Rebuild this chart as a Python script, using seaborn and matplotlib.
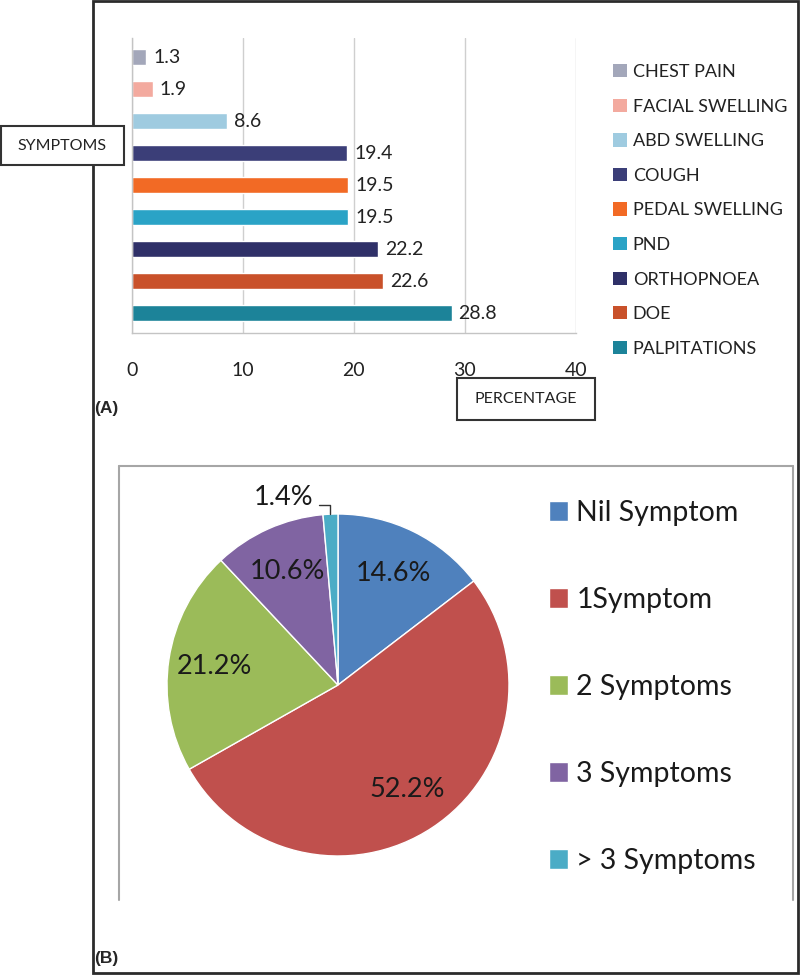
import numpy as np
import pandas as pd
import matplotlib
matplotlib.use('Agg')
import matplotlib.pyplot as plt
from matplotlib.patches import Rectangle, Patch
from matplotlib.lines import Line2D
import seaborn as sns

# (A) symptoms, percentage of patients
symptoms = ['CHEST PAIN', 'FACIAL SWELLING', 'ABD SWELLING', 'COUGH', 'PEDAL SWELLING',
            'PND', 'ORTHOPNOEA', 'DOE', 'PALPITATIONS']
percentages = [1.3, 1.9, 8.6, 19.4, 19.5, 19.5, 22.2, 22.6, 28.8]
bar_colors = ['#a3a7ba', '#f3aa9f', '#9fcbe0', '#3b3e78', '#f26a25',
              '#2aa3c6', '#2f3068', '#c9512a', '#1c8399']

# (B) number of symptoms per patient
groups = ['Nil Symptom', '1Symptom', '2 Symptoms', '3 Symptoms', '> 3 Symptoms']
shares = [14.6, 52.2, 21.2, 10.6, 1.4]
pie_colors = ['#4f81bd', '#c0504d', '#9bbb59', '#8064a2', '#4bacc6']

sns.set_style('white')
plt.rcParams['font.family'] = ['Lato', 'DejaVu Sans']

W, H = 800, 975
fig = plt.figure(figsize=(8, 9.75), dpi=100)
dark = '#222222'


def fx(x):
    return x / W


def fy(y):
    return 1 - y / H


def box(x0, y0, x1, y1, **kw):
    r = Rectangle((fx(x0), fy(y1)), fx(x1) - fx(x0), fy(y0) - fy(y1),
                  transform=fig.transFigure, **kw)
    fig.add_artist(r)


# outer frame
box(93, 1, 798, 973, fill=False, ec='#2b2b2b', lw=2, zorder=1)

# ---- panel A: horizontal bars ----
ax = fig.add_axes([fx(131.7), fy(333), (576 - 131.7) / W, (333 - 38) / H])
df = pd.DataFrame({'symptom': symptoms, 'pct': percentages})
sns.barplot(data=df, x='pct', y='symptom', hue='symptom', palette=bar_colors,
            orient='h', width=0.5, saturation=1, legend=False, ax=ax)
ax.set_xlim(0, 40)
ax.set_ylim(8.62, -0.6)
ax.set_xticks([0, 10, 20, 30, 40])
ax.set_yticks([])
ax.set_xlabel('')
ax.set_ylabel('')
ax.grid(axis='x', color='#cfcfcf', lw=1)
ax.set_axisbelow(True)
for s in ['top', 'right']:
    ax.spines[s].set_visible(False)
for s in ['left', 'bottom']:
    ax.spines[s].set_color('#c4c4c4')
    ax.spines[s].set_linewidth(1)
ax.tick_params(axis='x', length=0, pad=21, labelsize=14, labelcolor=dark)
for cont in ax.containers:
    ax.bar_label(cont, fmt='%.1f', padding=5, fontsize=14, color=dark)

handles = [Patch(facecolor=c, edgecolor='none') for c in bar_colors]
fig.legend(handles, symptoms, loc='upper left', bbox_to_anchor=(fx(613), fy(64)),
           frameon=False, fontsize=13, labelspacing=1.03, handlelength=0.8,
           handleheight=0.75, handletextpad=0.3, borderpad=0, borderaxespad=0,
           labelcolor=dark)

box(1, 126, 124, 165, fc='white', ec='#333333', lw=1.5, zorder=3)
fig.text(fx(62), fy(146), 'SYMPTOMS', ha='center', va='center', fontsize=11.5,
         color=dark, zorder=4)
box(457, 378, 595, 420, fc='white', ec='#333333', lw=1.5, zorder=3)
fig.text(fx(526), fy(399), 'PERCENTAGE', ha='center', va='center', fontsize=11.5,
         color=dark, zorder=4)
fig.text(fx(94), fy(409), '(A)', ha='left', va='center', fontsize=12.5,
         fontweight='bold', family='Liberation Sans')

# ---- panel B: pie ----
gray = '#a6a6a6'
for xs, ys in [([119, 119], [900, 466]), ([119, 793], [466, 466]), ([793, 793], [466, 900])]:
    fig.add_artist(Line2D([fx(v) for v in xs], [fy(v) for v in ys],
                          transform=fig.transFigure, color=gray, lw=1.5))

pax = fig.add_axes([fx(167), fy(856), 342 / W, 342 / H])
wedges, texts, autotexts = pax.pie(shares, colors=pie_colors, startangle=90,
                                   counterclock=False, autopct='%1.1f%%',
                                   pctdistance=0.73,
                                   textprops=dict(fontsize=19.5, color='#1a1a1a'))
pax.set_xlim(-1, 1)
pax.set_ylim(-1, 1)

# small slice gets an outside label with a leader line
autotexts[4].set_text('')
w = wedges[4]
ang = np.deg2rad((w.theta1 + w.theta2) / 2)
px, py = np.cos(ang), np.sin(ang)
pax.annotate(f'{shares[4]:.1f}%', xy=(px, py), xytext=(px - 0.1, py + 0.1),
             ha='right', va='center', fontsize=19.5, color='#1a1a1a',
             annotation_clip=False,
             arrowprops=dict(arrowstyle='-', color='#333333', lw=1,
                             connectionstyle='angle,angleA=0,angleB=90,rad=0',
                             relpos=(1.0, 0.2), shrinkA=2, shrinkB=0))

fig.legend(wedges, groups, loc='upper left', bbox_to_anchor=(fx(549), fy(500)),
           frameon=False, fontsize=20.5, labelspacing=2.14, handlelength=0.68,
           handleheight=0.68, handletextpad=0.28, borderpad=0, borderaxespad=0,
           labelcolor='#1a1a1a')

fig.text(fx(94), fy(958), '(B)', ha='left', va='center', fontsize=12.5,
         fontweight='bold', family='Liberation Sans')

fig.savefig('out.png', dpi=100)
